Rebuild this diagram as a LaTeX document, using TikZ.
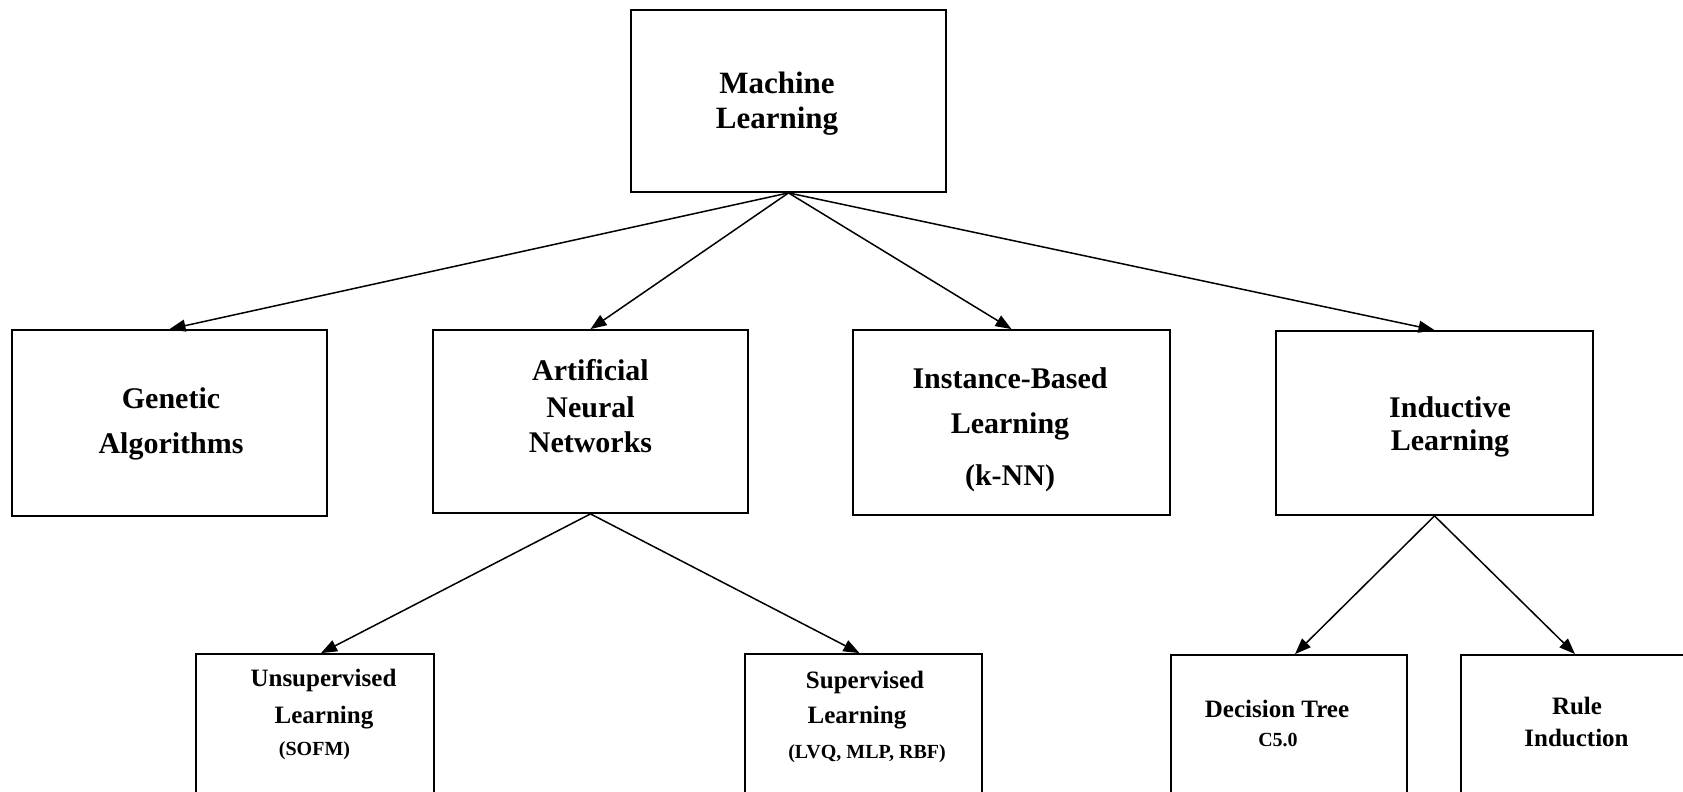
\documentclass[tikz,border=0pt]{standalone}
\usepackage{fontspec}
\setmainfont{Liberation Serif}
\usetikzlibrary{arrows.meta}
\begin{document}
\begin{tikzpicture}[x=1pt,y=-1pt,
  box/.style={draw, rectangle, line width=1.8pt, inner sep=0pt},
  link/.style={line width=1.5pt, -{Triangle[length=16pt,width=12pt]}},
  txt/.style={anchor=base, inner sep=0pt},
  ftop/.style={txt, font=\fontsize{31}{37}\selectfont\bfseries},
  fmid/.style={txt, font=\fontsize{30}{36}\selectfont\bfseries},
  fsub/.style={txt, font=\fontsize{25}{30}\selectfont\bfseries},
  fnote/.style={txt, font=\fontsize{20}{24}\selectfont\bfseries}]
\clip (0,0) rectangle (1683,792);

% boxes
\node[box, minimum width=315pt, minimum height=182pt] (ml)  at (788.5,101) {};
\node[box, minimum width=315pt, minimum height=186pt] (ga)  at (169.5,423) {};
\node[box, minimum width=315pt, minimum height=183pt] (ann) at (590.5,421.5) {};
\node[box, minimum width=317pt, minimum height=185pt] (ibl) at (1011.5,422.5) {};
\node[box, minimum width=317pt, minimum height=184pt] (ind) at (1434.5,423) {};
\node[box, minimum width=238pt, minimum height=172pt] (uns) at (315,740) {};
\node[box, minimum width=237pt, minimum height=172pt] (sup) at (863.5,740) {};
\node[box, minimum width=236pt, minimum height=171pt] (dt)  at (1289,740.5) {};
\node[box, minimum width=236pt, minimum height=171pt] (ri)  at (1579,740.5) {};

% labels
\node[ftop] (mlA) at (777,93)  {Machine};
\node[ftop] (mlB) at (777,128) {Learning};

\node[fmid] (gaA) at (171,408) {Genetic};
\node[fmid] (gaB) at (171,453) {Algorithms};

\node[fmid] (annA) at (590.5,380) {Artificial};
\node[fmid] (annB) at (590.5,417) {Neural};
\node[fmid] (annC) at (590.5,452) {Networks};

\node[fmid] (iblA) at (1010,388) {Instance-Based};
\node[fmid] (iblB) at (1010,433) {Learning};
\node[fmid] (iblC) at (1010,485) {(k-NN)};

\node[fmid] (indA) at (1450,417) {Inductive};
\node[fmid] (indB) at (1450,450) {Learning};

\node[fsub]  (unsA) at (323.5,686) {Unsupervised};
\node[fsub]  (unsB) at (324,723)   {Learning};
\node[fnote] (unsC) at (314.5,755) {(SOFM)};

\node[fsub]  (supA) at (865,688) {Supervised};
\node[fsub]  (supB) at (857,723) {Learning};
\node[fnote] (supC) at (867,758) {(LVQ, MLP, RBF)};

\node[fsub]  (dtA) at (1277,717) {Decision Tree};
\node[fnote] (dtB) at (1278,746) {C5.0};

\node[fsub] (riA) at (1577,714) {Rule};
\node[fsub] (riB) at (1576.5,746) {Induction};

% connectors
\draw[link] (ml.south) -- (ga.north);
\draw[link] (ml.south) -- (ann.north);
\draw[link] (ml.south) -- (ibl.north);
\draw[link] (ml.south) -- (ind.north);
\draw[link] (ann.south) -- ([xshift=6pt]uns.north);
\draw[link] (ann.south) -- ([xshift=-4pt]sup.north);
\draw[link] (ind.south) -- ([xshift=6pt]dt.north);
\draw[link] (ind.south) -- ([xshift=-4pt]ri.north);
\end{tikzpicture}
\end{document}
